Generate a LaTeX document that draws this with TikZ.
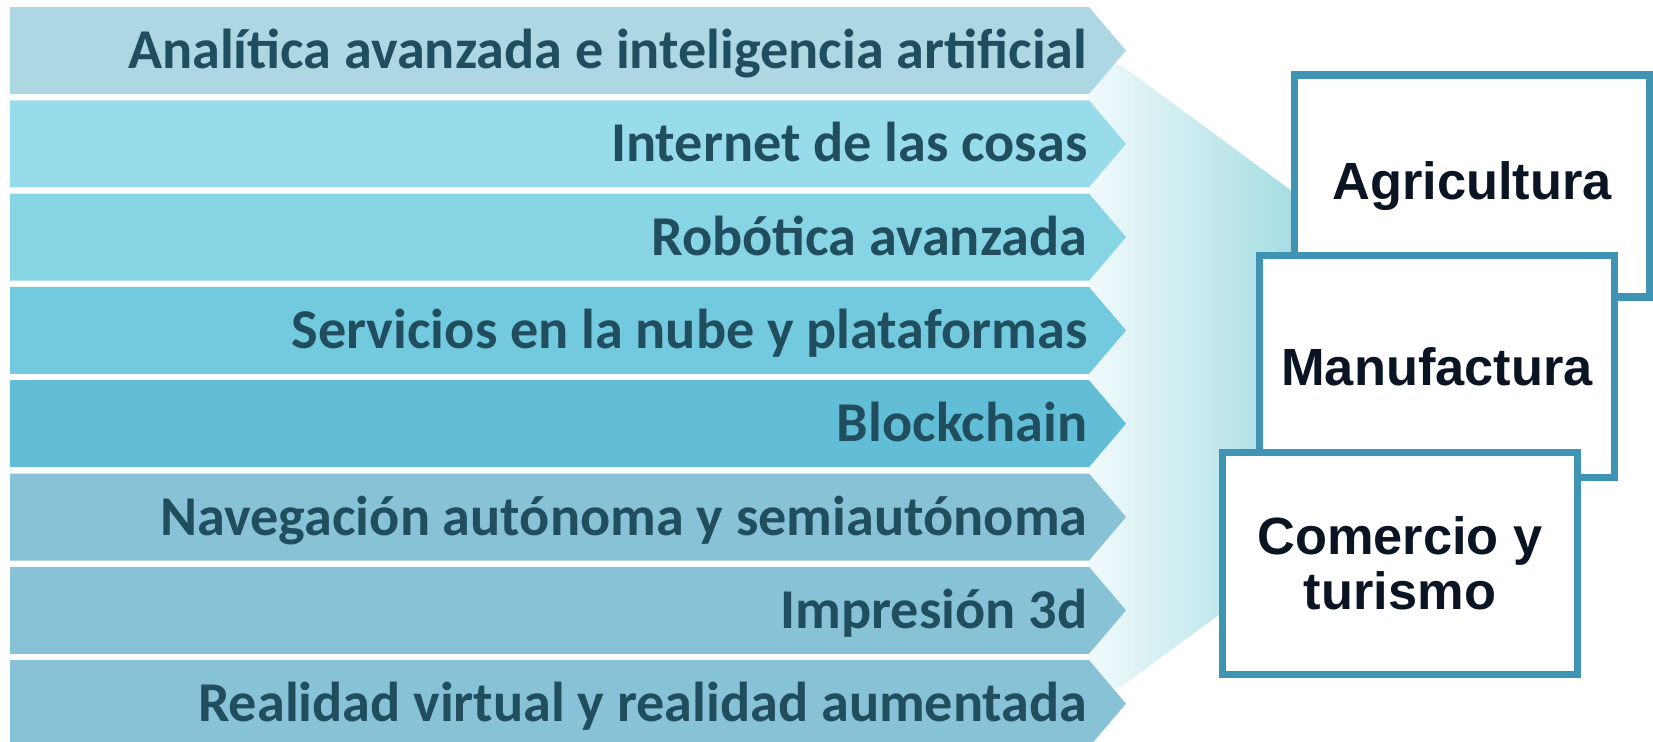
\documentclass[tikz,border=0pt]{standalone}
\usepackage{fontspec}
\usepackage{tikz}
\setmainfont{Carlito}
\newfontfamily\boxfont{Liberation Sans}

\definecolor{barA}{RGB}{173,216,227}
\definecolor{barB}{RGB}{152,220,235}
\definecolor{barC}{RGB}{134,212,228}
\definecolor{barD}{RGB}{115,202,223}
\definecolor{barE}{RGB}{98,190,214}
\definecolor{barF}{RGB}{136,194,214}
\definecolor{itemtext}{RGB}{32,78,94}
\definecolor{boxline}{RGB}{62,148,178}
\definecolor{boxtext}{RGB}{10,20,35}
\definecolor{funnelA}{RGB}{240,250,251}
\definecolor{funnelB}{RGB}{164,220,226}

\begin{document}
\begin{tikzpicture}[
    bar/.style={fill=#1},
    item/.style={anchor=base east, inner sep=0pt, text=itemtext,
        font=\bfseries\fontsize{16}{19}\selectfont},
    sector/.style={draw=boxline, line width=2pt, fill=white,
        rectangle, minimum width=3.55cm, minimum height=2.22cm,
        align=center, text=boxtext,
        font=\boxfont\bfseries\fontsize{14.9}{15.8}\selectfont}]
    \useasboundingbox (0,0) rectangle (16.53,-7.41);

    % Funnel towards the sectors
    \shade[left color=funnelA, right color=funnelB]
    (10.89,-0.60) -- (11.21,-0.65) -- (13.00,-1.97) -- (13.00,-5.55)
    -- (11.21,-6.87) -- (10.89,-6.87) -- cycle;

    % Analytics and AI
    \fill[bar=barA] (0.10,-0.07) -- (10.89,-0.07) -- (11.26,-0.505)
    -- (10.89,-0.94) -- (0.10,-0.94) -- cycle;
    \node [item] (analitica) at (10.88,-0.685)
    {Analítica avanzada e inteligencia artificial};

    % Internet of things
    \fill[bar=barB] (0.10,-1.003) -- (10.89,-1.003) -- (11.26,-1.438)
    -- (10.89,-1.873) -- (0.10,-1.873) -- cycle;
    \node [item] (iot) at (10.88,-1.618) {Internet de las cosas};

    % Robotics
    \fill[bar=barC] (0.10,-1.936) -- (10.89,-1.936) -- (11.26,-2.371)
    -- (10.89,-2.806) -- (0.10,-2.806) -- cycle;
    \node [item] (robotica) at (10.88,-2.551) {Robótica avanzada};

    % Cloud
    \fill[bar=barD] (0.10,-2.869) -- (10.89,-2.869) -- (11.26,-3.304)
    -- (10.89,-3.739) -- (0.10,-3.739) -- cycle;
    \node [item] (nube) at (10.88,-3.484) {Servicios en la nube y plataformas};

    % Blockchain
    \fill[bar=barE] (0.10,-3.802) -- (10.89,-3.802) -- (11.26,-4.237)
    -- (10.89,-4.672) -- (0.10,-4.672) -- cycle;
    \node [item] (blockchain) at (10.88,-4.417) {Blockchain};

    % Navigation
    \fill[bar=barF] (0.10,-4.735) -- (10.89,-4.735) -- (11.26,-5.17)
    -- (10.89,-5.605) -- (0.10,-5.605) -- cycle;
    \node [item] (navegacion) at (10.88,-5.35) {Navegación autónoma y semiautónoma};

    % 3d printing
    \fill[bar=barF] (0.10,-5.668) -- (10.89,-5.668) -- (11.26,-6.103)
    -- (10.89,-6.538) -- (0.10,-6.538) -- cycle;
    \node [item] (impresion) at (10.88,-6.283) {Impresión 3d};

    % VR and AR
    \fill[bar=barF] (0.10,-6.601) -- (10.89,-6.601) -- (11.26,-7.036)
    -- (10.89,-7.471) -- (0.10,-7.471) -- cycle;
    \node [item] (realidad) at (10.88,-7.216) {Realidad virtual y realidad aumentada};

    % Sectors
    \node [sector] (agri) at (14.72,-1.86) {Agricultura};
    \node [sector] (manu) at (14.37,-3.665) {Manufactura};
    \node [sector] (come) at (14.00,-5.635) {Comercio y\\turismo};
\end{tikzpicture}
\end{document}
